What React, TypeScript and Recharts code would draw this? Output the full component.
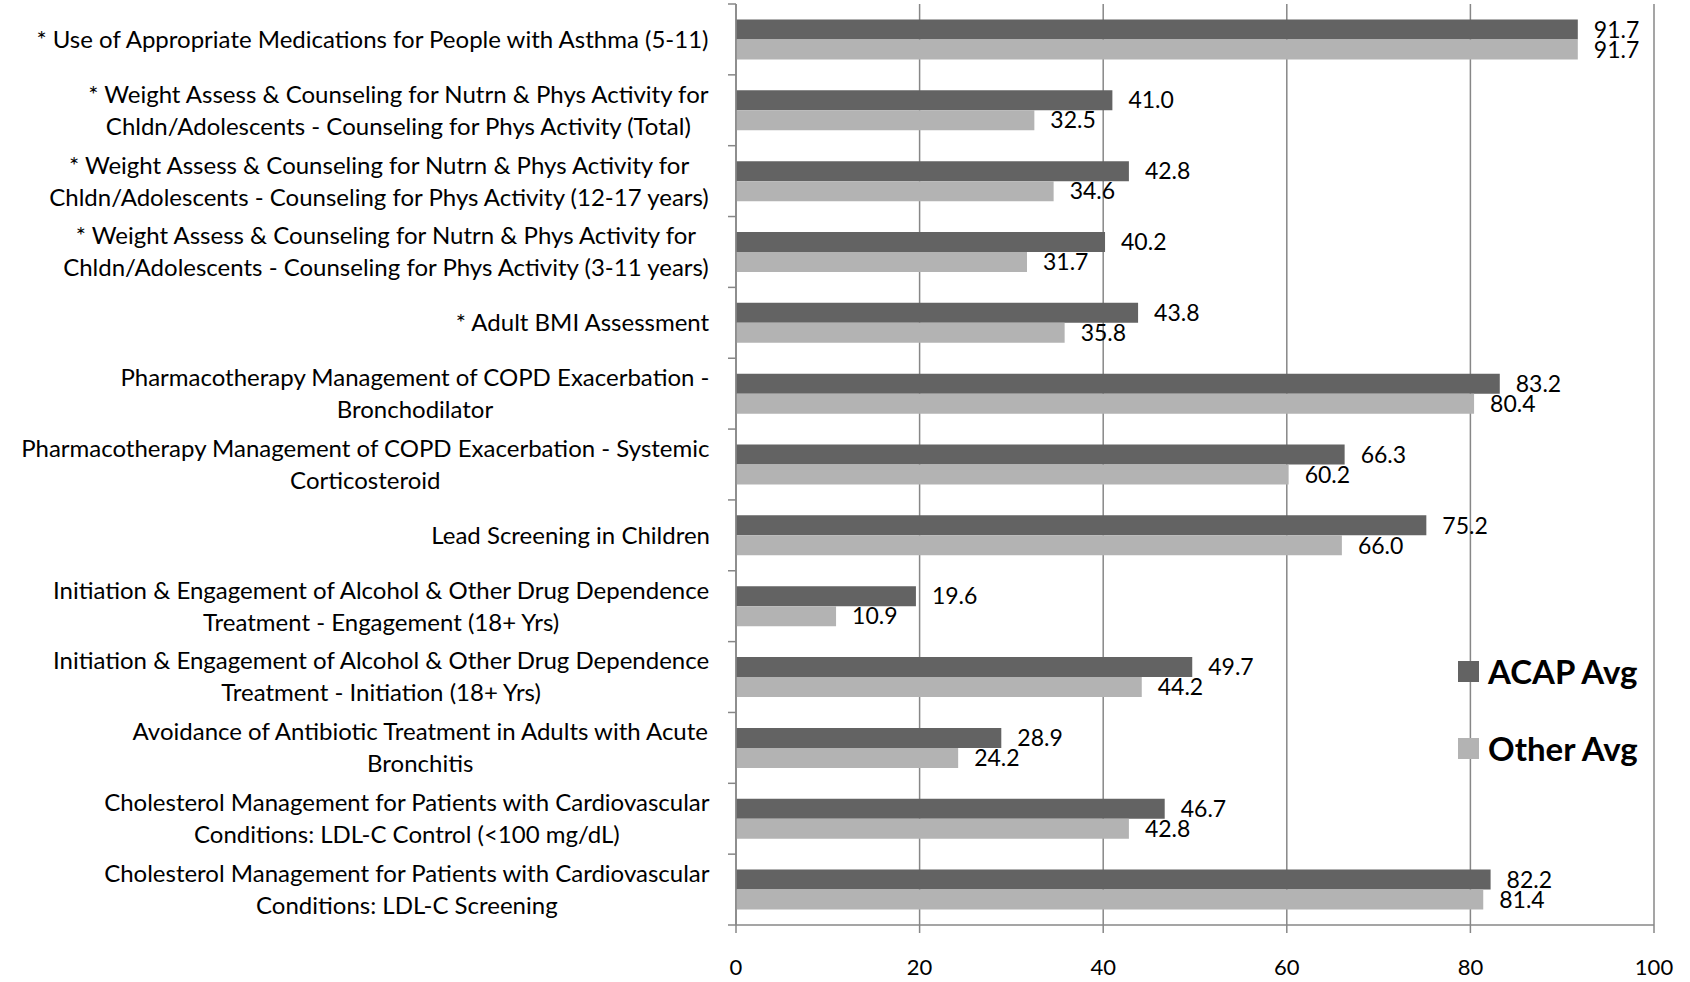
import React from 'react';
import { BarChart, Bar, XAxis, YAxis, CartesianGrid, LabelList, Legend } from 'recharts';

const categories: string[] = [
  '* Use of Appropriate Medications for People with Asthma (5-11)',
  '* Weight Assess & Counseling for Nutrn & Phys Activity for\nChldn/Adolescents - Counseling for Phys Activity (Total)',
  '* Weight Assess & Counseling for Nutrn & Phys Activity for\nChldn/Adolescents - Counseling for Phys Activity (12-17 years)',
  '* Weight Assess & Counseling for Nutrn & Phys Activity for\nChldn/Adolescents - Counseling for Phys Activity (3-11 years)',
  '* Adult BMI Assessment',
  'Pharmacotherapy Management of COPD Exacerbation -\nBronchodilator',
  'Pharmacotherapy Management of COPD Exacerbation - Systemic\nCorticosteroid',
  'Lead Screening in Children',
  'Initiation & Engagement of Alcohol & Other Drug Dependence\nTreatment - Engagement (18+ Yrs)',
  'Initiation & Engagement of Alcohol & Other Drug Dependence\nTreatment - Initiation (18+ Yrs)',
  'Avoidance of Antibiotic Treatment in Adults with Acute\nBronchitis',
  'Cholesterol Management for Patients with Cardiovascular\nConditions: LDL-C Control (<100 mg/dL)',
  'Cholesterol Management for Patients with Cardiovascular\nConditions: LDL-C Screening',
];

const acapAvg: number[] = [91.7, 41.0, 42.8, 40.2, 43.8, 83.2, 66.3, 75.2, 19.6, 49.7, 28.9, 46.7, 82.2];
const otherAvg: number[] = [91.7, 32.5, 34.6, 31.7, 35.8, 80.4, 60.2, 66.0, 10.9, 44.2, 24.2, 42.8, 81.4];
const xTicks: number[] = [0, 20, 40, 60, 80, 100];
const seriesNames: string[] = ['ACAP Avg', 'Other Avg'];

const data = categories.map((c, i) => ({ category: c, acap: acapAvg[i], other: otherAvg[i] }));

const FONT = 'Lato, "Open Sans", sans-serif';
const CAT_FONT_SIZE = 24;
const W = 1690;
const H = 982;
const TOP = 4;
const BOTTOM_AXIS_Y = 925;
const AXIS_X = 736;
const RIGHT = 36;
const XAXIS_H = H - BOTTOM_AXIS_Y;
const BAND = (BOTTOM_AXIS_Y - TOP) / categories.length;
const LABEL_RIGHT = 710;
const LINE_H = 32;
const DARK = '#636363';
const LIGHT = '#b3b3b3';
const GRID = '#878787';

let ctx: CanvasRenderingContext2D | null = null;
const measure = (s: string): number => {
  if (!ctx) {
    const c = document.createElement('canvas');
    ctx = c.getContext('2d');
  }
  if (!ctx) return s.length * CAT_FONT_SIZE * 0.5;
  ctx.font = `${CAT_FONT_SIZE}px Lato`;
  return ctx.measureText(s).width;
};

const CatTick = (props: any) => {
  const { y, payload, index } = props;
  const lines = String(payload.value).split('\n');
  const maxW = Math.max(...lines.map(measure));
  const cx = LABEL_RIGHT - maxW / 2;
  const startY = y - ((lines.length - 1) * LINE_H) / 2;
  return (
    <g>
      <line x1={AXIS_X - 8} x2={AXIS_X} y1={y - BAND / 2} y2={y - BAND / 2} stroke={GRID} strokeWidth={1.5} />
      {index === categories.length - 1 && (
        <line x1={AXIS_X - 8} x2={AXIS_X} y1={y + BAND / 2} y2={y + BAND / 2} stroke={GRID} strokeWidth={1.5} />
      )}
      <text textAnchor="middle" fontFamily={FONT} fontSize={CAT_FONT_SIZE} fill="#000">
        {lines.map((l, i) => (
          <tspan key={i} x={cx} y={startY + i * LINE_H} dy="0.35em">
            {l}
          </tspan>
        ))}
      </text>
    </g>
  );
};

const LegendContent = () => {
  const colors = [DARK, LIGHT];
  return (
    <div style={{ fontFamily: FONT }}>
      {seriesNames.map((n, i) => (
        <div
          key={n}
          style={{ display: 'flex', alignItems: 'center', height: 42, marginTop: i === 0 ? 0 : 35 }}
        >
          <div style={{ width: 21, height: 21, background: colors[i], marginRight: 9 }} />
          <span style={{ fontSize: 33, fontWeight: 700, color: '#000', whiteSpace: 'nowrap' }}>{n}</span>
        </div>
      ))}
    </div>
  );
};

const fmt = (v: any) => Number(v).toFixed(1);

export default function App() {
  return (
    <div style={{ position: 'absolute', left: 0, top: 0, width: W, height: H, background: '#fff' }}>
      <BarChart
        width={W}
        height={H}
        data={data}
        layout="vertical"
        margin={{ top: TOP, right: RIGHT, bottom: 0, left: 0 }}
        barCategoryGap="21.8%"
        barGap={0}
      >
        <CartesianGrid horizontal={false} vertical={true} stroke={GRID} strokeWidth={1.5} />
        <XAxis
          type="number"
          domain={[0, 100]}
          ticks={xTicks}
          interval={0}
          height={XAXIS_H}
          tickSize={8}
          tickMargin={26}
          axisLine={{ stroke: GRID, strokeWidth: 1.5 }}
          tickLine={{ stroke: GRID, strokeWidth: 1.5 }}
          tick={{ fontSize: 22, fill: '#000', fontFamily: FONT }}
        />
        <YAxis
          type="category"
          dataKey="category"
          width={AXIS_X}
          interval={0}
          tickLine={false}
          axisLine={{ stroke: GRID, strokeWidth: 1.5 }}
          tick={<CatTick />}
        />
        <Legend
          layout="vertical"
          align="center"
          verticalAlign="middle"
          content={<LegendContent />}
          wrapperStyle={{ position: 'absolute', left: 1458, top: 650, width: 'auto' }}
        />
        <Bar dataKey="acap" name={seriesNames[0]} fill={DARK} isAnimationActive={false}>
          <LabelList dataKey="acap" position="right" offset={16} formatter={fmt} fill="#000" fontSize={23} fontFamily={FONT} />
        </Bar>
        <Bar dataKey="other" name={seriesNames[1]} fill={LIGHT} isAnimationActive={false}>
          <LabelList dataKey="other" position="right" offset={16} formatter={fmt} fill="#000" fontSize={23} fontFamily={FONT} />
        </Bar>
      </BarChart>
    </div>
  );
}
